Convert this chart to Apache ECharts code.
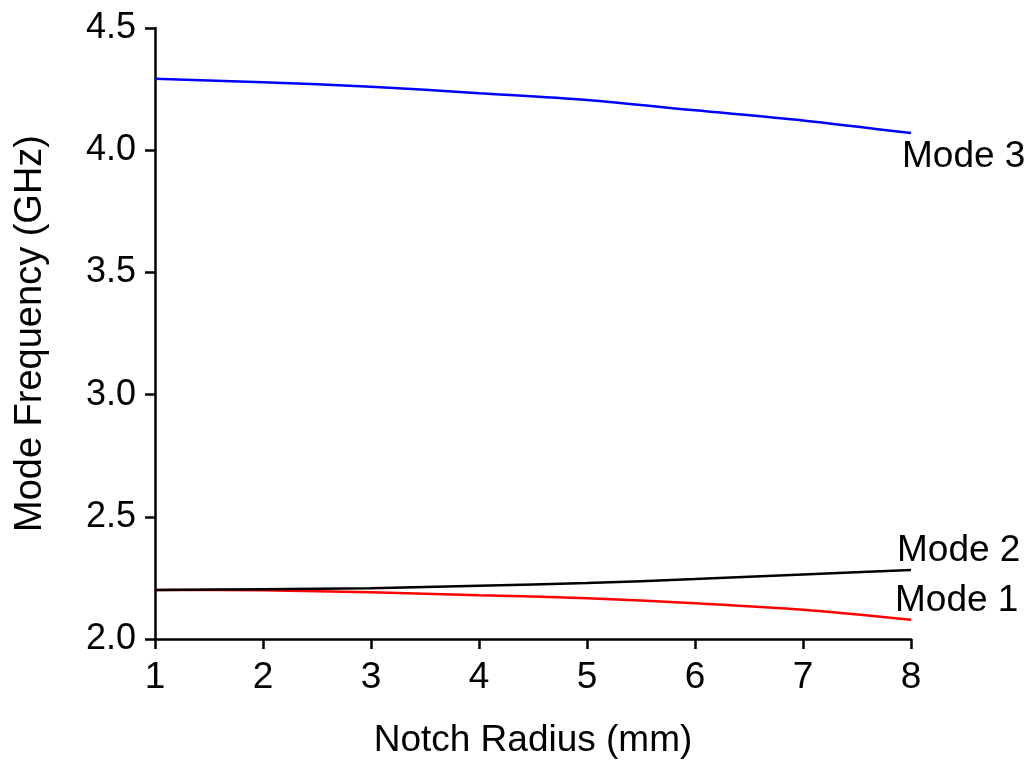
<!DOCTYPE html>
<html>
<head>
<meta charset="utf-8">
<script src="https://cdn.jsdelivr.net/npm/echarts@6/dist/echarts.min.js"></script>
<style>html,body{margin:0;padding:0;background:#fff}#c{width:1031px;height:764px}</style>
</head>
<body>
<div id="c"></div>
<script>
const radius = [1, 2, 3, 4, 5, 6, 7, 8];
const mode1 = [2.201, 2.199, 2.191, 2.179, 2.167, 2.146, 2.120, 2.079];
const mode2 = [2.201, 2.204, 2.208, 2.218, 2.229, 2.245, 2.264, 2.282];
const mode3 = [4.292, 4.278, 4.260, 4.233, 4.205, 4.163, 4.122, 4.070];
const seriesNames = ['Mode 1', 'Mode 2', 'Mode 3'];
const xTitle = 'Notch Radius (mm)';
const yTitle = 'Mode Frequency (GHz)';

const FONT = 'Liberation Sans, Arial, sans-serif';
const pairs = arr => radius.map((x, i) => [x, arr[i]]);

const chart = echarts.init(document.getElementById('c'), null, {renderer: 'canvas'});
const axisCommon = {
  axisLine: {show: true, lineStyle: {color: '#000', width: 2.5}},
  axisTick: {show: true, inside: false, length: 10, lineStyle: {color: '#000', width: 2.5}},
  splitLine: {show: false}
};
function mkSeries(name, data, color, offset) {
  return {
    name: name, type: 'line', data: pairs(data), showSymbol: false, symbol: 'none',
    smooth: 0.3,
    lineStyle: {color: color, width: 2.5}, itemStyle: {color: color},
    animation: false,
    endLabel: {show: true, formatter: name, color: '#000', fontFamily: FONT, fontSize: 37,
      align: 'left', verticalAlign: 'middle', distance: 0, offset: offset}
  };
}
chart.setOption({
  backgroundColor: '#fff',
  animation: false,
  grid: {left: 155, right: 120, top: 28, bottom: 124, containLabel: false},
  xAxis: Object.assign({}, axisCommon, {
    type: 'value', min: 1, max: 8, interval: 1,
    name: xTitle, nameLocation: 'middle', nameGap: 83,
    nameTextStyle: {color: '#000', fontFamily: FONT, fontSize: 37},
    axisLabel: {color: '#000', fontFamily: FONT, fontSize: 37, margin: 20}
  }),
  yAxis: Object.assign({}, axisCommon, {
    type: 'value', min: 2, max: 4.5, interval: 0.5,
    name: yTitle, nameLocation: 'middle', nameGap: 105,
    nameTextStyle: {color: '#000', fontFamily: FONT, fontSize: 38},
    axisLabel: {color: '#000', fontFamily: FONT, fontSize: 36, margin: 19,
      formatter: v => v.toFixed(1)}
  }),
  series: [
    mkSeries(seriesNames[0], mode1, '#ff0000', [-16, -19]),
    mkSeries(seriesNames[1], mode2, '#000000', [-14, -19]),
    mkSeries(seriesNames[2], mode3, '#0000ff', [-9, 24])
  ]
});
</script>
</body>
</html>
